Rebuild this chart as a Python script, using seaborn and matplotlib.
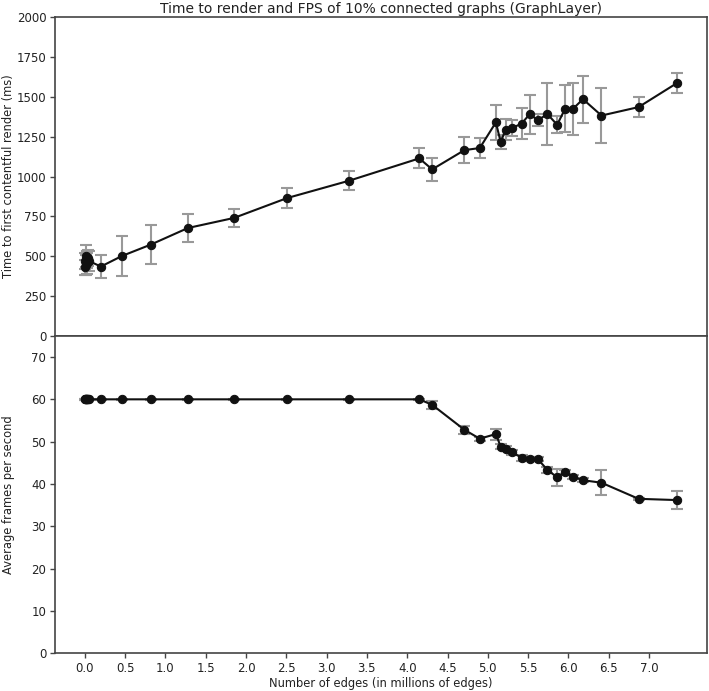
import matplotlib
matplotlib.use("Agg")
import matplotlib.pyplot as plt
import seaborn as sns
import pandas as pd

# Data (edges in millions)
edges = [0.002, 0.005, 0.01, 0.015, 0.022, 0.03, 0.04, 0.05,
         0.2, 0.46, 0.82, 1.28, 1.85, 2.51, 3.28, 4.15, 4.31,
         4.71, 4.90, 5.10, 5.16, 5.22, 5.30, 5.42, 5.52, 5.62,
         5.74, 5.86, 5.96, 6.06, 6.18, 6.41, 6.87, 7.35]
render_ms = [430, 470, 445, 500, 480, 455, 490, 470,
             435, 501, 573, 677, 740, 865, 974, 1114, 1045,
             1166, 1179, 1340, 1216, 1295, 1304, 1333, 1392, 1354,
             1392, 1325, 1427, 1427, 1486, 1383, 1436, 1588]
render_err = [45, 50, 60, 70, 55, 65, 50, 60,
              71, 124, 120, 88, 58, 62, 59, 63, 72,
              83, 62, 108, 45, 68, 51, 96, 122, 37,
              194, 54, 150, 163, 147, 170, 61, 65]
fps = [60, 60, 60, 60, 60, 60, 60, 60,
       60, 60, 60, 60, 60, 60, 60, 60, 58.7,
       52.8, 50.7, 51.8, 48.8, 48.3, 47.5, 46.2, 45.9, 45.9,
       43.3, 41.6, 42.8, 41.7, 40.9, 40.3, 36.5, 36.2]
fps_err = [0.1, 0.1, 0.1, 0.1, 0.1, 0.1, 0.1, 0.1,
           0.1, 0.1, 0.1, 0.1, 0.1, 0.1, 0.1, 0.1, 1.0,
           0.9, 0.5, 1.3, 0.6, 0.6, 0.6, 0.7, 0.5, 0.5,
           0.6, 2.0, 0.5, 0.5, 0.4, 3.0, 0.3, 2.2]

df = pd.DataFrame({"edges": edges, "render": render_ms, "render_err": render_err,
                   "fps": fps, "fps_err": fps_err})

sns.set_theme(style="ticks")
plt.rcParams['font.family'] = ['DejaVu Sans']
plt.rcParams['axes.edgecolor'] = '#444444'
plt.rcParams['xtick.color'] = '#444444'
plt.rcParams['ytick.color'] = '#444444'
plt.rcParams['xtick.labelcolor'] = '#222222'
plt.rcParams['ytick.labelcolor'] = '#222222'

fig = plt.figure(figsize=(7.09, 6.91), dpi=100)
ax1 = fig.add_axes([0.078, 0.514, 0.919, 0.461])
ax2 = fig.add_axes([0.078, 0.0545, 0.919, 0.4595], sharex=ax1)

err_kw = dict(fmt='none', ecolor='#999999', elinewidth=1.5, capsize=4, capthick=1.5, zorder=1)
line_kw = dict(color='#111111', linewidth=1.5, marker='o', markersize=6,
               markeredgecolor='#111111', markerfacecolor='#111111', zorder=2)

ax1.errorbar(df["edges"], df["render"], yerr=df["render_err"], **err_kw)
sns.lineplot(data=df, x="edges", y="render", ax=ax1, sort=False, estimator=None, **line_kw)

ax2.errorbar(df["edges"], df["fps"], yerr=df["fps_err"], **err_kw)
sns.lineplot(data=df, x="edges", y="fps", ax=ax2, sort=False, estimator=None, **line_kw)

ax1.set_ylim(0, 2000)
ax1.set_yticks(range(0, 2001, 250))
ax2.set_ylim(0, 75)
ax2.set_yticks(range(0, 71, 10))
ax2.set_xticks([i * 0.5 for i in range(15)])
ax2.set_xticklabels(["%.1f" % (i * 0.5) for i in range(15)])

ax1.tick_params(axis='x', bottom=False, labelbottom=False)
for ax in (ax1, ax2):
    ax.tick_params(labelsize=8.5, length=3.5, width=1, pad=3)
    for sp in ax.spines.values():
        sp.set_linewidth(1.2)

ax1.set_xlabel("")
ax1.set_ylabel("Time to first contentful render (ms)", fontsize=8.3, color='#222222')
ax2.set_ylabel("Average frames per second", fontsize=8.3, color='#222222')
ax1.yaxis.set_label_coords(-0.062, 0.5)
ax2.yaxis.set_label_coords(-0.062, 0.5)
ax2.set_xlabel("Number of edges (in millions of edges)", fontsize=8.3, color='#222222', labelpad=1)
ax1.set_title("Time to render and FPS of 10% connected graphs (GraphLayer)",
              fontsize=10, color='#222222', pad=3)

fig.savefig("out.png", dpi=100)
